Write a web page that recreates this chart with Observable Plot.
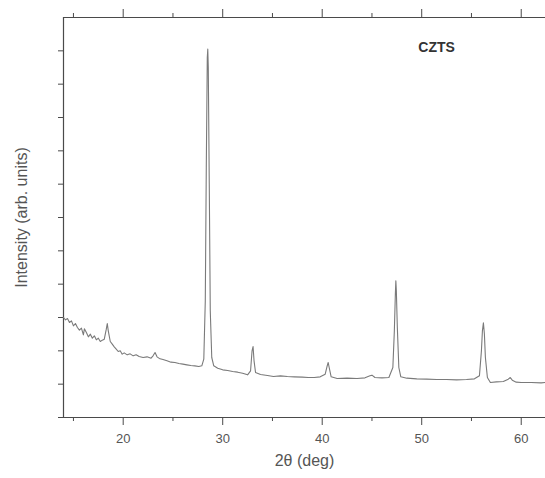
<!DOCTYPE html>
<html><head><meta charset="utf-8">
<script src="https://cdn.jsdelivr.net/npm/d3@7"></script>
<script src="https://cdn.jsdelivr.net/npm/@observablehq/plot@0.6"></script>
<style>body{margin:0;background:#fff} svg{display:block}</style>
</head><body><div id="chart"></div>
<script>
const twoTheta = [
  14.0,14.2,14.4,14.6,14.8,15.0,15.2,15.4,15.6,15.8,16.0,16.1,16.3,16.5,16.7,16.9,17.1,17.3,17.5,17.7,17.9,18.1,
  18.3,18.4,18.5,18.7,18.9,19.1,19.3,19.5,19.7,19.9,20.1,20.4,20.7,21.0,21.3,21.6,22.0,22.4,22.8,23.0,23.2,23.4,
  23.7,24.0,24.4,24.8,25.2,25.6,26.0,26.4,26.8,27.2,27.6,27.9,28.1,28.25,28.35,28.45,28.5,28.55,28.65,28.75,28.9,
  29.1,29.5,30.0,30.5,31.0,31.5,32.0,32.5,32.8,32.95,33.05,33.15,33.3,33.8,34.5,35.1,35.8,36.5,37.2,38.0,38.6,
  39.2,39.8,40.3,40.5,40.6,40.7,40.9,41.5,42.5,43.5,44.3,44.8,45.0,45.3,46.0,46.7,47.1,47.25,47.35,47.4,47.45,
  47.55,47.7,47.9,48.5,49.5,50.5,51.5,52.5,53.5,54.5,55.3,55.8,56.0,56.1,56.2,56.3,56.4,56.6,56.9,57.5,58.2,
  58.7,58.9,59.1,59.5,60.0,61.0,62.0,62.5
];
const intensity = [
  3.0,2.93,2.97,2.85,2.9,2.75,2.82,2.7,2.62,2.68,2.48,2.66,2.55,2.42,2.5,2.38,2.45,2.33,2.38,2.28,2.32,2.35,
  2.65,2.82,2.6,2.28,2.2,2.12,2.05,1.98,2.0,1.9,1.94,1.88,1.91,1.85,1.88,1.83,1.8,1.82,1.78,1.85,1.95,1.82,
  1.76,1.74,1.7,1.66,1.65,1.62,1.6,1.58,1.56,1.55,1.53,1.55,1.75,3.5,7.5,10.8,11.05,10.5,7.0,3.2,1.8,
  1.55,1.48,1.43,1.41,1.38,1.36,1.33,1.28,1.4,2.0,2.13,1.7,1.35,1.29,1.26,1.23,1.25,1.23,1.22,1.21,1.2,
  1.2,1.22,1.3,1.55,1.65,1.5,1.22,1.17,1.18,1.17,1.19,1.25,1.27,1.2,1.19,1.2,1.5,2.6,3.7,4.1,3.8,
  2.7,1.5,1.22,1.18,1.16,1.15,1.14,1.14,1.13,1.14,1.16,1.25,2.0,2.6,2.84,2.5,1.8,1.2,1.05,1.07,1.08,
  1.15,1.2,1.12,1.06,1.05,1.05,1.04,1.05
];
const xMajorTicks = [20, 30, 40, 50, 60];
const xMinorTicks = [15, 25, 35, 45, 55];
const yTicks = [0, 1, 2, 3, 4, 5, 6, 7, 8, 9, 10, 11];
const xDomain = [14, 62.44];
const yDomain = [0, 12];
const sampleNames = ["CZTS"];
const sampleX = [51.5];
const sampleY = [11.1];
const xTitle = "2θ (deg)";
const yTitle = "Intensity (arb. units)";

const pattern = twoTheta.map((t, i) => ({t, v: intensity[i]}));
const labels = sampleNames.map((s, i) => ({s, x: sampleX[i], y: sampleY[i]}));
const axisColor = "#4a4a4a";
const blank = () => "";

const chart = Plot.plot({
  width: 545,
  height: 478,
  marginLeft: 63,
  marginRight: 0,
  marginTop: 17,
  marginBottom: 61,
  style: {fontFamily: "Liberation Sans, Arial, sans-serif", background: "#fff", color: axisColor},
  x: {domain: xDomain},
  y: {domain: yDomain},
  marks: [
    Plot.ruleX([xDomain[0]], {stroke: axisColor, strokeWidth: 1.2}),
    Plot.ruleY([yDomain[0]], {stroke: axisColor, strokeWidth: 1.2}),
    Plot.ruleY([yDomain[1]], {stroke: axisColor, strokeWidth: 1.2}),
    Plot.axisX({anchor: "bottom", ticks: xMajorTicks, tickSize: 8, tickPadding: 8, fontSize: 13, label: null, stroke: axisColor, fill: "#555"}),
    Plot.axisX({anchor: "bottom", ticks: xMinorTicks, tickSize: 4, tickFormat: blank, label: null, stroke: axisColor}),
    Plot.axisX({anchor: "top", ticks: xMajorTicks, tickSize: 9, tickFormat: blank, label: null, stroke: axisColor}),
    Plot.axisX({anchor: "top", ticks: xMinorTicks, tickSize: 5, tickFormat: blank, label: null, stroke: axisColor}),
    Plot.axisY({anchor: "left", ticks: yTicks, tickSize: 5, tickFormat: blank, label: null, stroke: axisColor}),
    Plot.line(pattern, {x: "t", y: "v", stroke: "#7a7a7a", strokeWidth: 1.1, curve: "linear"}),
    Plot.text(labels, {x: "x", y: "y", text: "s", fontSize: 14, fontWeight: "bold", fill: "#333"}),
    Plot.text([xTitle], {frameAnchor: "bottom", textAnchor: "middle", dy: 48, fontSize: 16, letterSpacing: 1, fill: "#555"}),
    Plot.text([yTitle], {frameAnchor: "left", textAnchor: "middle", dx: -42, rotate: -90, fontSize: 16, letterSpacing: 1, fill: "#555"})
  ]
});
document.getElementById("chart").append(chart);
</script>
</body></html>
